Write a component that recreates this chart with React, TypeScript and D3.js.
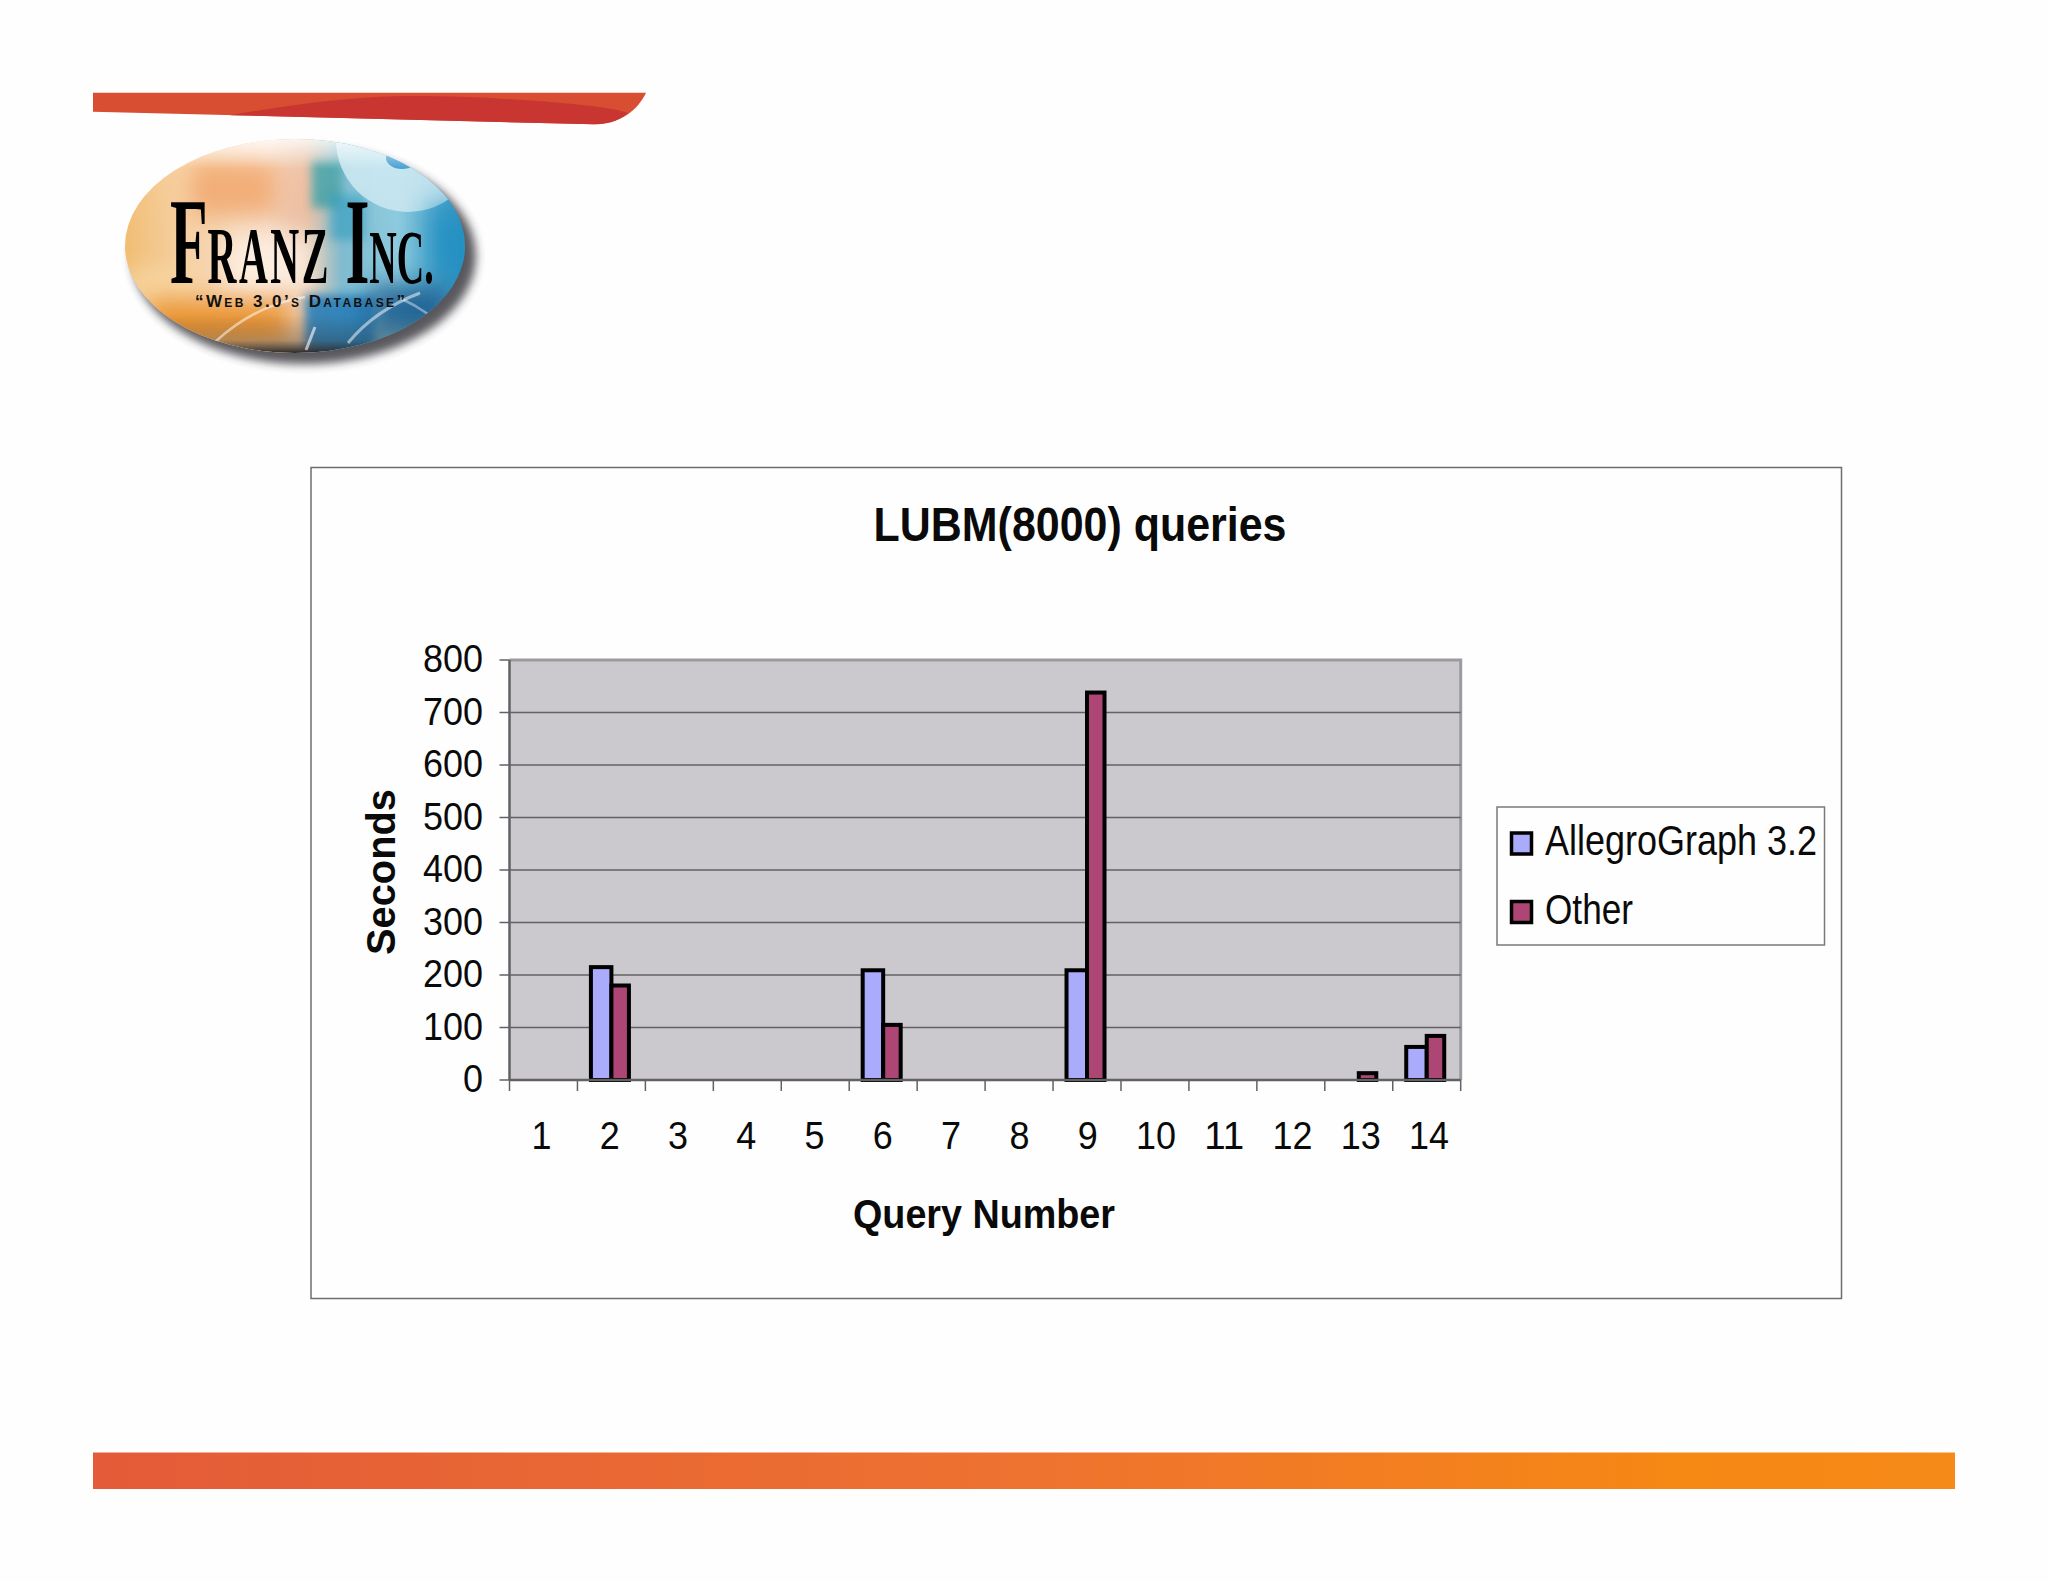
import React from "react";
import * as d3 from "d3";

const categories = ["1","2","3","4","5","6","7","8","9","10","11","12","13","14"];
const seriesNames = ["AllegroGraph 3.2", "Other"];
const allegroValues = [0,215,0,0,0,209,0,0,209,0,0,0,0,63];
const otherValues = [0,180,0,0,0,105,0,0,738,0,0,0,13,84];
const yTicks = [0,100,200,300,400,500,600,700,800];
const seriesColors = ["#ABABFB", "#AD4674"];
const SANS = "'Liberation Sans', Arial, sans-serif";
const SERIF = "'Liberation Serif', serif";

const W = 2048, H = 1582;
const x = d3.scaleBand<string>().domain(categories).range([509.5, 1460.7]);
const labelX = d3.scalePoint<string>().domain(categories).range([541.5, 1429]);
const y = d3.scaleLinear().domain([0, 800]).range([1080, 660]);
// Bars of a group sit on either side of the category centre, the first one wider.
const barEdges = [-20.5, 0, 17.5];

const digitsLength = (s: string) => s.length * 20;

function Logo() {
  return (
    <g>
      <defs>
        <linearGradient id="logoBase" x1="0" x2="1" y1="0" y2="0">
          <stop offset="0" stopColor="#F3BE72" />
          <stop offset="0.18" stopColor="#F8D3A6" />
          <stop offset="0.42" stopColor="#F9DCC6" />
          <stop offset="0.53" stopColor="#E9C5A8" />
          <stop offset="0.64" stopColor="#7FBDD2" />
          <stop offset="0.8" stopColor="#8CCBE0" />
          <stop offset="1" stopColor="#2A93C4" />
        </linearGradient>
        <linearGradient id="logoShade" x1="0" x2="0" y1="0" y2="1">
          <stop offset="0" stopColor="#ffffff" stopOpacity="0.8" />
          <stop offset="0.14" stopColor="#ffffff" stopOpacity="0.05" />
          <stop offset="0.82" stopColor="#3a3020" stopOpacity="0" />
          <stop offset="0.94" stopColor="#2a2a28" stopOpacity="0.3" />
          <stop offset="1" stopColor="#15181c" stopOpacity="0.9" />
        </linearGradient>
        <filter id="logoBlur" x="-20%" y="-20%" width="140%" height="140%">
          <feGaussianBlur stdDeviation="5" />
        </filter>
        <filter id="patchBlur" x="-60%" y="-60%" width="220%" height="220%">
          <feGaussianBlur stdDeviation="12" />
        </filter>
        <filter id="softBlur" x="-40%" y="-40%" width="180%" height="180%">
          <feGaussianBlur stdDeviation="5" />
        </filter>
        <clipPath id="logoClip">
          <ellipse cx="295" cy="246" rx="170" ry="107" />
        </clipPath>
      </defs>
      <ellipse cx="304" cy="256" rx="172" ry="108" fill="#2e2e34" opacity="0.8" filter="url(#logoBlur)" />
      <ellipse cx="295" cy="246" rx="170" ry="107" fill="url(#logoBase)" />
      <g clipPath="url(#logoClip)">
        <rect x="190" y="160" width="90" height="55" fill="#F0A062" opacity="0.8" filter="url(#patchBlur)" />
        <rect x="285" y="165" width="30" height="60" fill="#F3B89C" opacity="0.6" filter="url(#patchBlur)" />
        <rect x="225" y="235" width="90" height="60" fill="#FFF3E6" opacity="0.85" filter="url(#patchBlur)" />
        <rect x="125" y="270" width="70" height="30" fill="#F9D8A6" opacity="0.9" filter="url(#patchBlur)" />
        <rect x="150" y="300" width="140" height="45" fill="#E88E28" opacity="0.9" filter="url(#patchBlur)" />
        <rect x="312" y="160" width="30" height="48" fill="#3FA0A6" opacity="0.85" filter="url(#softBlur)" />
        <rect x="330" y="195" width="35" height="45" fill="#2E9CC0" opacity="0.6" filter="url(#softBlur)" />
        <circle cx="408" cy="140" r="72" fill="#CDE9F2" opacity="0.85" />
        <ellipse cx="402" cy="158" rx="16" ry="11" fill="#3E9BD0" />
        <rect x="430" y="205" width="40" height="70" fill="#1E8EC2" opacity="0.85" filter="url(#patchBlur)" />
        <rect x="305" y="295" width="70" height="55" fill="#2A7FB8" opacity="0.9" filter="url(#softBlur)" />
        <rect x="370" y="285" width="80" height="50" fill="#14588C" opacity="0.85" filter="url(#patchBlur)" />
        <ellipse cx="295" cy="246" rx="170" ry="107" fill="url(#logoShade)" />
        <path d="M215 342 Q 255 305 305 297" fill="none" stroke="#ffffff" strokeOpacity="0.5" strokeWidth="2.5" />
        <path d="M306 350 L 315 327" fill="none" stroke="#ffffff" strokeOpacity="0.6" strokeWidth="3" />
        <path d="M348 343 Q 375 310 420 293" fill="none" stroke="#ffffff" strokeOpacity="0.5" strokeWidth="3" />
        <path d="M400 298 Q 415 305 428 314" fill="none" stroke="#ffffff" strokeOpacity="0.4" strokeWidth="2.5" />
      </g>
      <text transform="translate(170,283) scale(0.5,1)" fontFamily={SERIF} fontWeight="bold" fill="#000">
        <tspan fontSize={123}>F</tspan>
        <tspan fontSize={80} letterSpacing={5}>RANZ</tspan>
        <tspan fontSize={123} dx={29}>I</tspan>
        <tspan fontSize={76}>NC.</tspan>
      </text>
      <text x={195} y={307} fontFamily={SANS} fontWeight="bold" fontSize={17} fill="#111"
        style={{ fontVariant: "small-caps" }} textLength={210} lengthAdjust="spacing">“Web 3.0’s Database”</text>
    </g>
  );
}

export default function App() {
  const series = [allegroValues, otherValues];
  return (
    <svg width={W} height={H} viewBox={`0 0 ${W} ${H}`}
      style={{ position: "absolute", left: 0, top: 0, background: "#FEFEFE" }}>
      <defs>
        <linearGradient id="footerGrad" x1="0" x2="1" y1="0" y2="0">
          <stop offset="0" stopColor="#E35B38" />
          <stop offset="0.5" stopColor="#EE7230" />
          <stop offset="0.85" stopColor="#F68814" />
          <stop offset="1" stopColor="#F68A18" />
        </linearGradient>
      </defs>

      {/* Header band */}
      <path d="M93 92.7 H646 C 638 110 620 124 594 124.3 L93 111.7 Z" fill="#D74E32" />
      <path d="M230 115.2 C 300 103 360 96 412 96 C 480 96 570 102 612 109 Q 622 111 628 113 C 618 122 606 124 594 124.3 Z" fill="#C93530" />

      <Logo />

      {/* Footer band */}
      <rect x={93} y={1452.5} width={1862} height={36.5} fill="url(#footerGrad)" />

      {/* Chart frame */}
      <rect x={311} y={467.5} width={1530.5} height={831} fill="#FEFEFE" stroke="#6e6e6e" strokeWidth={1.5} />
      <text x={1080} y={541} textAnchor="middle" fontFamily={SANS} fontWeight="bold" fontSize={48}
        textLength={413} lengthAdjust="spacingAndGlyphs" fill="#0a0a0a">LUBM(8000) queries</text>

      {/* Plot area */}
      <rect x={x.range()[0]} y={y(800)} width={x.range()[1] - x.range()[0]} height={y(0) - y(800)} fill="#CBC9CD" />
      <path d={`M${x.range()[0]} ${y(800)} H${x.range()[1]} V${y(0)}`} fill="none" stroke="#9b9b9d" strokeWidth={3} />

      {yTicks.map((t) => (
        <g key={t}>
          {t > 0 && t < 800 && (
            <line x1={x.range()[0]} x2={x.range()[1]} y1={y(t)} y2={y(t)} stroke="#626165" strokeWidth={1.5} />
          )}
          <line x1={x.range()[0] - 10} x2={x.range()[0]} y1={y(t)} y2={y(t)} stroke="#626165" strokeWidth={1.5} />
          <text x={483} y={y(t) + 12} textAnchor="end" fontFamily={SANS} fontSize={39}
            textLength={digitsLength(String(t))} lengthAdjust="spacingAndGlyphs" fill="#0a0a0a">{t}</text>
        </g>
      ))}

      {/* Bars */}
      {series.map((values, s) =>
        values.map((v, i) =>
          v > 0 ? (
            <rect key={`${s}-${i}`}
              x={x(categories[i])! + x.bandwidth() / 2 + barEdges[s]}
              y={y(v)}
              width={barEdges[s + 1] - barEdges[s]}
              height={y(0) - y(v)}
              fill={seriesColors[s]} stroke="#000" strokeWidth={4} />
          ) : null
        )
      )}

      {/* Axes */}
      <line x1={x.range()[0]} x2={x.range()[0]} y1={y(800)} y2={y(0)} stroke="#626165" strokeWidth={2.5} />
      <line x1={x.range()[0]} x2={x.range()[1]} y1={y(0)} y2={y(0)} stroke="#626165" strokeWidth={2.5} />
      {[...categories.map((c) => x(c)!), x.range()[1]].map((px, i) => (
        <line key={i} x1={px} x2={px} y1={y(0)} y2={y(0) + 11} stroke="#626165" strokeWidth={1.5} />
      ))}
      {categories.map((c) => (
        <text key={c} x={labelX(c)!} y={1149} textAnchor="middle" fontFamily={SANS} fontSize={38}
          textLength={digitsLength(c)} lengthAdjust="spacingAndGlyphs" fill="#0a0a0a">{c}</text>
      ))}

      {/* Axis titles */}
      <text x={984} y={1228} textAnchor="middle" fontFamily={SANS} fontWeight="bold" fontSize={40}
        textLength={262} lengthAdjust="spacingAndGlyphs" fill="#0a0a0a">Query Number</text>
      <text transform="translate(395,872) rotate(-90)" textAnchor="middle" fontFamily={SANS} fontWeight="bold" fontSize={40}
        textLength={166} lengthAdjust="spacingAndGlyphs" fill="#0a0a0a">Seconds</text>

      {/* Legend */}
      <rect x={1497} y={807} width={327.5} height={138} fill="#FEFEFE" stroke="#7a7a7a" strokeWidth={1.5} />
      {seriesNames.map((name, i) => (
        <g key={name}>
          <rect x={1511.5} y={[833, 901.5][i]} width={20} height={21} fill={seriesColors[i]} stroke="#000" strokeWidth={3.5} />
          <text x={1545} y={[855, 924][i]} fontFamily={SANS} fontSize={42}
            textLength={[272, 88][i]} lengthAdjust="spacingAndGlyphs" fill="#0a0a0a">{name}</text>
        </g>
      ))}
    </svg>
  );
}
